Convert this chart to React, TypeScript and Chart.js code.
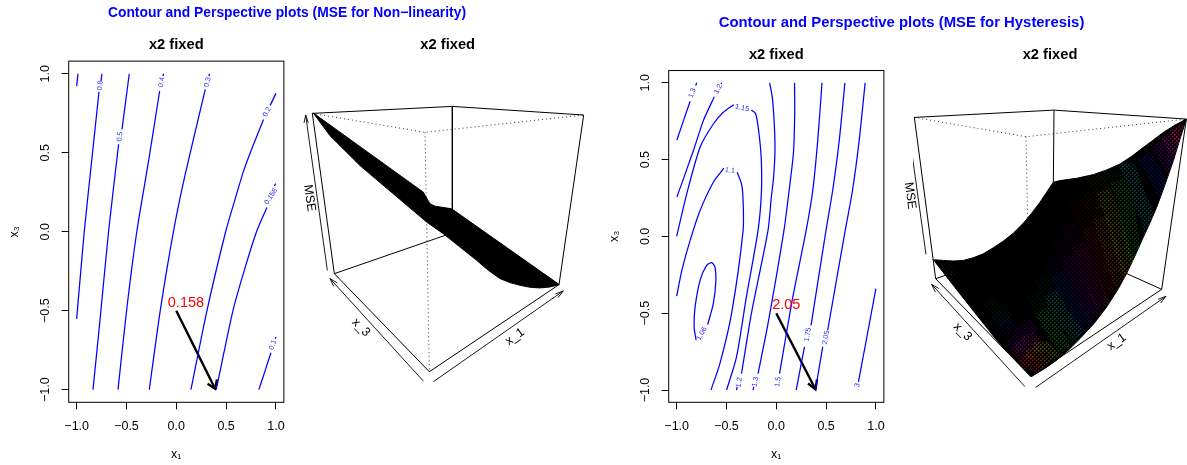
import React, { useEffect, useRef } from "react";
import { Chart, registerables } from "chart.js";

Chart.register(...registerables);

type Pt = [number, number] | null;
type Lab = [string, number, number, number];

const FONT = '"Liberation Sans", Arial, sans-serif';
const axisTicks = [-1, -0.5, 0, 0.5, 1];

// ---- Contour, Non-linearity
const nlCurves: Pt[][] = [
  [[-0.987, 1.0], [-1.0, 0.922]],
  [[-1.0, -0.552], [-0.923, 0.006], [-0.846, 0.469], [-0.776, 0.886], null, [-0.756, 0.954], [-0.746, 1.0]],
  [[-0.836, -1], [-0.763, -0.541], [-0.679, 0.006], [-0.579, 0.554], null, [-0.545, 0.648], [-0.472, 1.0]],
  [[-0.585, -1], [-0.495, -0.478], [-0.395, 0.006], [-0.278, 0.448], [-0.167, 0.891], null, [-0.134, 0.985], [-0.127, 1.0]],
  [[-0.271, -1], [-0.161, -0.499], [-0.027, 0.006], [0.09, 0.364], [0.291, 0.901], null, [0.328, 0.985], [0.334, 1.0]],
  [[0.147, -1], [0.308, -0.499], [0.498, 0.006], [0.59, 0.205], [0.676, 0.385], [0.78, 0.56], [0.876, 0.711], null, [0.943, 0.8], [1.0, 0.876]],
  [[0.401, -1], [0.569, -0.499], [0.682, -0.246], [0.809, 0.006], [0.91, 0.154], null, [0.983, 0.291], [1.0, 0.305]],
  [[0.829, -1], [0.893, -0.878], [0.95, -0.766], null, [0.993, -0.678], [1.0, -0.667]],
];
const nlLabels: Lab[] = [
  ["0.8", -0.763, 0.926, -85],
  ["0.5", -0.565, 0.602, -82],
  ["0.4", -0.147, 0.947, -80],
  ["0.3", 0.314, 0.947, -75],
  ["0.2", 0.91, 0.758, -63],
  ["0.158", 0.95, 0.223, -57],
  ["0.1", 0.97, -0.716, -70],
];
const nlArrow: Pt[] = [[0, -0.5], [0.39, -0.994]];
const nlArrowHead: Pt[] = [[0.314, -0.962], [0.39, -0.994], [0.408, -0.935]];
const nlValue: Lab = ["0.158", 0.097, -0.453, 0];

// ---- Contour, Hysteresis
const hyCurves: Pt[][] = [
  [[-0.998, 0.628], [-0.865, 0.88], null, [-0.809, 0.982], [-0.799, 1.0]],
  [[-0.998, 0.256], [-0.832, 0.559], [-0.732, 0.754], [-0.622, 0.91], null, [-0.556, 0.992], [-0.549, 1.0]],
  [[-1.0, 0.0], [-0.899, 0.277], [-0.765, 0.581], [-0.632, 0.732], [-0.532, 0.808], [-0.426, 0.858], null, [-0.25, 0.823], [-0.206, 0.797], [-0.173, 0.667], [-0.15, 0.494], [-0.15, 0.277], [-0.183, 0.039], [-0.3, -0.394], [-0.399, -0.784], [-0.499, -1]],
  [[-1.0, -0.388], [-0.948, -0.221], [-0.865, -0.026], [-0.765, 0.169], [-0.632, 0.353], [-0.526, 0.444], null, [-0.393, 0.418], [-0.349, 0.342], [-0.333, 0.234], [-0.333, 0.039], [-0.449, -0.503], [-0.566, -0.828], [-0.656, -1]],
  [[-0.067, 1.0], [-0.04, 0.905], [-0.02, 0.731], [-0.013, 0.559], [-0.027, 0.385], [-0.05, 0.255], [-0.083, 0.039], [-0.25, -0.503], [-0.349, -0.893], null, [-0.393, -0.979], [-0.399, -1]],
  [[0.183, 1], [0.185, 0.8], [0.173, 0.55], [0.133, 0.321], [0.077, 0.039], [-0.083, -0.568], [-0.183, -0.893], null, [-0.226, -0.979], [-0.233, -1]],
  [[0.459, 1], [0.416, 0.624], [0.366, 0.299], [0.3, 0.039], [0.166, -0.394], [0.033, -0.893]],
  [[0.689, 1], [0.632, 0.624], [0.566, 0.299], [0.499, 0.039], [0.349, -0.579], null, [0.283, -0.719], [0.2, -1]],
  [[0.892, 1], [0.832, 0.624], [0.765, 0.299], [0.692, 0.039], [0.516, -0.611], null, [0.466, -0.719], [0.393, -1]],
  [[1.0, -0.34], [0.825, -0.947]],
  [[-0.805, -0.676], [-0.825, -0.589], [-0.815, -0.459], [-0.765, -0.286], [-0.699, -0.189], [-0.649, -0.171], [-0.616, -0.199], [-0.606, -0.286], [-0.632, -0.438], [-0.689, -0.574]],
];
const hyLabels: Lab[] = [
  ["1.3", -0.842, 0.934, -70],
  ["1.2", -0.582, 0.96, -63],
  ["1.15", -0.343, 0.836, 12],
  ["1.1", -0.466, 0.429, 5],
  ["1.06", -0.749, -0.633, -60],
  ["1.2", -0.373, -0.951, -80],
  ["1.3", -0.21, -0.947, -78],
  ["1.5", 0.017, -0.947, -80],
  ["1.75", 0.316, -0.639, -80],
  ["2.05", 0.499, -0.659, -80],
  ["3", 0.815, -0.969, -80],
];
const hyArrow: Pt[] = [[0, -0.5], [0.393, -0.995]];
const hyArrowHead: Pt[] = [[0.319, -0.958], [0.393, -0.995], [0.409, -0.932]];
const hyValue: Lab = ["2.05", 0.1, -0.449, 0];

// ---- Perspective, Non-linearity (projected plot units)
const p1Solid: Pt[][] = [
  [[118, 820], [52, 338], [472, 317], [866, 343], [792, 853], [403, 1115], [118, 820]],
  [[472, 317], [472, 628]],
  [[118, 820], [450, 705]],
];
const p1Dotted: Pt[][] = [
  [[52, 338], [390, 395], [866, 343]],
  [[390, 395], [403, 1115]],
];
const p1Axes: Pt[][] = [
  [[97, 810], [32, 343]], [[27, 367], [32, 343], [40, 366]],
  [[385, 1143], [105, 835]], [[127, 848], [105, 835], [116, 858]],
  [[415, 1145], [805, 872]], [[789, 892], [805, 872], [781, 881]],
];
const p1Surface: Pt[] = [[55, 337], [385, 575], [405, 610], [420, 617], [470, 625], [793, 853], [765, 860], [735, 863], [705, 861], [675, 855], [645, 847], [615, 835], [580, 810], [545, 780], [495, 740], [445, 700], [395, 665], [295, 580], [195, 495], [105, 405], [55, 337]];
const p1Labels: Lab[] = [["MSE", 43, 593, 82], ["x_3", 198, 982, 45], ["x_1", 660, 1010, -35]];

// ---- Perspective, Hysteresis (projected plot units)
const p2Solid: Pt[][] = [
  [[137, 745], [73, 260], [492, 238], [889, 265], [815, 777], [423, 1040], [137, 745]],
  [[492, 238], [490, 455]],
  [[137, 745], [490, 625]],
  [[815, 777], [600, 680]],
];
const p2Dotted: Pt[][] = [
  [[73, 260], [408, 318], [889, 265]],
  [[408, 318], [413, 570]],
];
const p2Axes: Pt[][] = [
  [[108, 672], [55, 290]], [[64, 313], [55, 290], [51, 315]],
  [[405, 1070], [125, 762]], [[147, 775], [125, 762], [136, 785]],
  [[437, 1072], [828, 798]], [[812, 818], [828, 798], [804, 807]],
];
const p2Surface: Pt[] = [
  [130, 688], [160, 690], [190, 692], [220, 690], [250, 682], [280, 670], [310, 652], [340, 632], [370, 608], [400, 578], [425, 548], [450, 515], [470, 485], [490, 455],
  [510, 450], [560, 443], [610, 432], [650, 418], [690, 400], [725, 377], [760, 350], [790, 328], [820, 305], [855, 283], [889, 265],
  [870, 325], [850, 390], [825, 462], [800, 530], [780, 577], [760, 620], [737, 672], [712, 725], [685, 775], [650, 830], [612, 880], [570, 925], [535, 960], [500, 990], [463, 1016], [423, 1040],
  [320, 930], [200, 778], [130, 688],
];
const p2Labels: Lab[] = [["MSE", 60, 495, 82], ["x_3", 218, 905, 45], ["x_1", 680, 935, -35]];

const bandPaths: Pt[][] = [
  [[860, 290], [880, 330]],
  [[835, 310], [865, 370]],
  [[805, 335], [850, 420]],
  [[760, 375], [790, 420], [825, 490]],
  [[710, 400], [740, 480], [775, 570], [785, 620]],
  [[680, 450], [710, 530], [725, 620], [745, 690]],
  [[640, 480], [670, 560], [695, 650], [720, 730]],
  [[630, 560], [660, 650], [695, 760]],
  [[595, 590], [630, 680], [665, 790]],
  [[565, 640], [600, 730], [640, 830]],
  [[530, 680], [570, 770], [615, 860]],
  [[500, 730], [540, 810], [590, 890]],
  [[480, 790], [520, 860], [565, 920]],
  [[455, 840], [490, 900], [525, 955]],
  [[430, 950], [470, 950], [495, 985]],
  [[410, 975], [440, 965], [470, 1000]],
  [[395, 1005], [420, 985], [450, 1020]],
  [[375, 975], [410, 940], [445, 920]],
  [[365, 955], [400, 905], [430, 880]],
  [[335, 905], [370, 875]],
  [[315, 875], [350, 840]],
  [[290, 840], [320, 810]],
  [[160, 700], [190, 750]],
  [[640, 480], [600, 430]],
  [[680, 450], [640, 420]],
  [[710, 400], [670, 385]],
  [[630, 560], [590, 490]],
  [[595, 590], [555, 510]],
  [[565, 640], [530, 580]],
  [[530, 680], [500, 620]],
  [[500, 730], [470, 680]],
  [[480, 790], [450, 740]],
  [[455, 840], [430, 790]],
];
const bandColors = [
  "255,20,80", "240,0,190", "150,0,230", "20,40,240", "0,190,190", "20,210,40", "170,190,0",
  "230,120,0", "240,20,40", "235,0,170", "140,0,230", "20,50,240", "0,190,180", "20,210,50",
  "200,210,0", "240,140,0", "255,20,30", "230,0,160", "130,0,220", "20,40,230", "0,170,170", "20,180,50", "20,180,60",
  "170,190,0", "20,210,40", "0,190,190", "230,120,0", "240,20,40", "235,0,170", "140,0,230", "20,50,240", "0,190,180", "20,210,50",
];
const bandAlpha = [
  0.55, 0.45, 0.4, 0.34, 0.34, 0.3, 0.34, 0.27, 0.24, 0.27, 0.3, 0.3, 0.34, 0.36, 0.38, 0.38, 0.5, 0.36, 0.28, 0.22, 0.13, 0.1, 0.1,
  0.1, 0.1, 0.12, 0.11, 0.11, 0.1, 0.1, 0.1, 0.08, 0.1,
];

const toData = (pts: Pt[]) => {
  let last = 0;
  return pts.map((p) => {
    if (!p) return { x: last, y: null };
    last = p[0];
    return { x: p[0], y: p[1] };
  });
};

const line = (pts: Pt[], color: any, width: number, extra: any = {}) => ({
  data: toData(pts),
  borderColor: color,
  backgroundColor: color,
  borderWidth: width,
  pointRadius: 0,
  showLine: true,
  tension: 0,
  ...extra,
});

const ordered = (ds: any[]) => ds.map((d, i) => ({ ...d, order: ds.length - i }));

const textPlugin = {
  id: "textMarks",
  afterDatasetsDraw(chart: any, _a: any, opts: any) {
    const { ctx, scales } = chart;
    for (const it of opts.items || []) {
      const [t, x, y, ang] = it.lab;
      ctx.save();
      ctx.translate(scales.x.getPixelForValue(x), scales.y.getPixelForValue(y));
      ctx.rotate((ang * Math.PI) / 180);
      ctx.font = it.font;
      ctx.fillStyle = it.color;
      ctx.textAlign = "center";
      ctx.textBaseline = "middle";
      ctx.fillText(t, 0, 0);
      ctx.restore();
    }
  },
};

const boxPlugin = {
  id: "plotBox",
  beforeDatasetsDraw(chart: any) {
    const { ctx, chartArea: a } = chart;
    ctx.save();
    ctx.strokeStyle = "#000";
    ctx.lineWidth = 1;
    ctx.strokeRect(a.left, a.top, a.right - a.left, a.bottom - a.top);
    ctx.restore();
  },
};

const clipPlugin = {
  id: "surfaceClip",
  beforeDatasetDraw(chart: any, args: any) {
    const ds = chart.data.datasets[args.index];
    if (!ds.clipPoly) return;
    const { ctx, scales } = chart;
    ctx.save();
    ctx.beginPath();
    ds.clipPoly.forEach((p: any, i: number) => {
      const px = scales.x.getPixelForValue(p[0]);
      const py = scales.y.getPixelForValue(p[1]);
      if (i === 0) ctx.moveTo(px, py);
      else ctx.lineTo(px, py);
    });
    ctx.closePath();
    ctx.clip();
  },
  afterDatasetDraw(chart: any, args: any) {
    if (chart.data.datasets[args.index].clipPoly) chart.ctx.restore();
  },
};

const titleOpts = (topPad: number, bottomPad: number) => ({
  display: true,
  text: "x2 fixed",
  color: "#000",
  fullSize: false,
  font: { family: FONT, size: 14.7, weight: "bold" as const, lineHeight: 1.2 },
  padding: { top: topPad, bottom: bottomPad },
});

const makeContour = (canvas: HTMLCanvasElement, cfg: any) => {
  const tickFmt = (v: any) => Number(v).toFixed(1).replace("-", "\u2212");
  const scale = (title: string, extraTicks: any, fit: (s: any) => void, titlePad: any) => ({
    type: "linear",
    min: -1.08,
    max: 1.08,
    afterBuildTicks: (s: any) => {
      s.ticks = axisTicks.map((value) => ({ value }));
    },
    afterFit: fit,
    grid: { drawOnChartArea: false, drawTicks: true, tickLength: 7, color: "#000", lineWidth: 1 },
    border: { display: false },
    title: { display: true, text: title, color: "#000", font: { family: FONT, size: 12.5 }, padding: titlePad },
    ticks: { color: "#000", font: { family: FONT, size: 12.5 }, callback: tickFmt, autoSkip: false, ...extraTicks },
  });
  return new Chart(canvas, {
    type: "scatter",
    data: {
      datasets: [
        ...cfg.curves.map((c: Pt[]) => line(c, "#0000ff", 1.25, { tension: 0.25 })),
        line(cfg.arrow, "#000", 2.4),
        line(cfg.head, "#000", 2.4),
      ],
    },
    options: {
      animation: false,
      responsive: false,
      devicePixelRatio: 1,
      layout: { padding: { right: cfg.padRight } },
      scales: {
        x: scale("x\u2081", { padding: 10, maxRotation: 0, minRotation: 0 }, (s: any) => { s.height = cfg.axisH; }, { top: 0, bottom: 3 }),
        y: scale("x\u2083", { padding: 3.5, minRotation: 90, maxRotation: 90, crossAlign: "center" }, (s: any) => { s.width = cfg.axisW; }, { top: 7, bottom: 0 }),
      } as any,
      plugins: {
        legend: { display: false },
        tooltip: { enabled: false },
        title: titleOpts(cfg.titleTop, cfg.titleBottom),
        textMarks: {
          items: [
            ...cfg.labels.map((lab: Lab) => ({ lab, font: `7.2px ${FONT}`, color: "#2a2aff" })),
            { lab: cfg.value, font: `14.5px ${FONT}`, color: "#ff0000" },
          ],
        },
      } as any,
    },
    plugins: [textPlugin, boxPlugin],
  } as any);
};

const makeDots = (rgb: string, alpha: number) => {
  const tile = document.createElement("canvas");
  tile.width = 4;
  tile.height = 4;
  const c = tile.getContext("2d")!;
  c.fillStyle = `rgba(${rgb},${alpha})`;
  c.fillRect(0, 0, 1.5, 1.5);
  c.fillRect(2, 2, 1.5, 1.5);
  return c.createPattern(tile, "repeat");
};

const makePersp = (canvas: HTMLCanvasElement, cfg: any) => {
  const ds = [
    ...cfg.dotted.map((d: Pt[]) => line(d, "#333", 1, { borderDash: [1, 3] })),
    ...cfg.solid.map((d: Pt[]) => line(d, "#000", 1)),
    ...cfg.axes.map((d: Pt[]) => line(d, "#000", 0.9)),
    line(cfg.surface, "#000", 1, { fill: "shape", backgroundColor: "#000" }),
    ...(cfg.bands || []),
  ];
  return new Chart(canvas, {
    type: "scatter",
    data: { datasets: ordered(ds) },
    options: {
      animation: false,
      responsive: false,
      devicePixelRatio: 1,
      layout: { padding: { left: cfg.padLeft } },
      scales: {
        x: { type: "linear", display: false, min: cfg.xMin, max: cfg.xMax },
        y: { type: "linear", display: false, min: cfg.yMin, max: cfg.yMax, reverse: true },
      },
      plugins: {
        legend: { display: false },
        tooltip: { enabled: false },
        title: titleOpts(cfg.titleTop, cfg.titleBottom),
        textMarks: { items: cfg.labels.map((lab: Lab) => ({ lab, font: `12.5px ${FONT}`, color: "#000" })) },
      } as any,
    },
    plugins: [textPlugin, clipPlugin],
  } as any);
};

const mainTitle = (size: number, cx: number, cy: number): React.CSSProperties => ({
  position: "absolute",
  left: cx - 300,
  top: cy - 10,
  width: 600,
  height: 20,
  lineHeight: "20px",
  textAlign: "center",
  color: "#0000ff",
  fontFamily: FONT,
  fontWeight: "bold",
  fontSize: size,
  whiteSpace: "nowrap",
});

export default function App() {
  const c1 = useRef<HTMLCanvasElement>(null);
  const c2 = useRef<HTMLCanvasElement>(null);
  const c3 = useRef<HTMLCanvasElement>(null);
  const c4 = useRef<HTMLCanvasElement>(null);

  useEffect(() => {
    const bands = bandPaths.map((p, i) =>
      line(p, makeDots(bandColors[i], bandAlpha[i]), i >= 14 && i <= 16 ? 10 : 15, { tension: 0.3, clipPoly: p2Surface, backgroundColor: "transparent" })
    );
    const charts = [
      makeContour(c1.current!, {
        curves: nlCurves, arrow: nlArrow, head: nlArrowHead, labels: nlLabels, value: nlValue,
        padRight: 11, axisW: 68.7, axisH: 62.7, titleTop: 36.6, titleBottom: 6.9,
      }),
      makePersp(c2.current!, {
        solid: p1Solid, dotted: p1Dotted, axes: p1Axes, surface: p1Surface, labels: p1Labels,
        padLeft: 5.4, xMin: 16.2, xMax: 900, yMin: 180, yMax: 1200, titleTop: 36.6, titleBottom: 6.6,
      }),
      makeContour(c3.current!, {
        curves: hyCurves, arrow: hyArrow, head: hyArrowHead, labels: hyLabels, value: hyValue,
        padRight: 9, axisW: 68.7, axisH: 62.7, titleTop: 46.6, titleBottom: 6.3,
      }),
      makePersp(c4.current!, {
        solid: p2Solid, dotted: p2Dotted, axes: p2Axes, surface: p2Surface, labels: p2Labels, bands,
        padLeft: 23, xMin: 69, xMax: 891, yMin: 180, yMax: 1140, titleTop: 16.6, titleBottom: 26.6,
      }),
    ];
    return () => charts.forEach((c) => c.destroy());
  }, []);

  const cs = (left: number, top: number): React.CSSProperties => ({ position: "absolute", left, top, display: "block" });
  return (
    <div style={{ position: "absolute", left: 0, top: 0, width: 1187, height: 465, overflow: "hidden", background: "#fff" }}>
      <canvas ref={c1} width={295} height={465} style={cs(0, 0)} />
      <canvas ref={c2} width={300} height={400} style={cs(295, 0)} />
      <canvas ref={c3} width={295} height={465} style={cs(600, 0)} />
      <canvas ref={c4} width={297} height={380} style={cs(890, 30)} />
      <div style={mainTitle(13.85, 287, 12)}>Contour and Perspective plots (MSE for Non−linearity)</div>
      <div style={mainTitle(14.9, 901.5, 21.5)}>Contour and Perspective plots (MSE for Hysteresis)</div>
    </div>
  );
}
